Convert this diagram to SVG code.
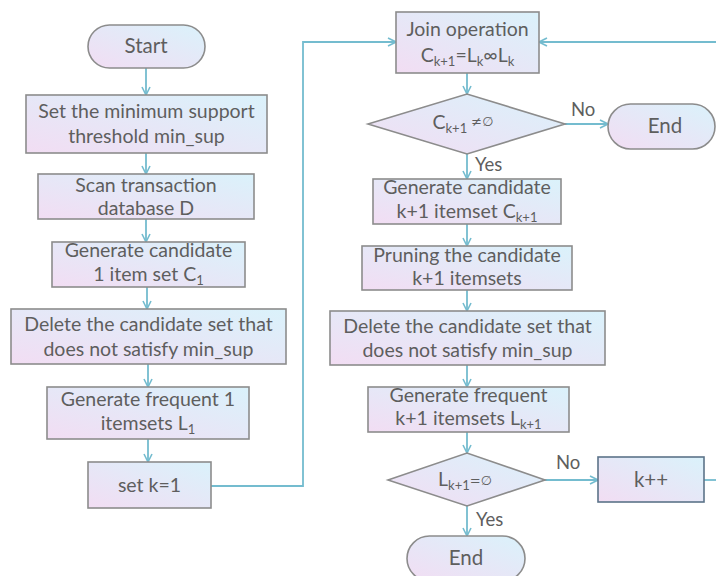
<svg xmlns="http://www.w3.org/2000/svg" width="716" height="576" viewBox="0 0 716 576">
<defs>
<linearGradient id="g" x1="0" y1="1" x2="1" y2="0">
<stop offset="0" stop-color="#f2ddf3"/>
<stop offset="1" stop-color="#daf2fb"/>
</linearGradient>
<marker id="a" viewBox="0 0 10 10" refX="9" refY="5" markerWidth="10" markerHeight="10" markerUnits="userSpaceOnUse" orient="auto">
<path d="M1,1 L9,5 L1,9" fill="none" stroke="#74bccf" stroke-width="1.6"/>
</marker>
<style>
.n{fill:url(#g);stroke:#8c8c8c;stroke-width:1.6}
.k{fill:url(#g);stroke:#5c7389;stroke-width:1.6}
.t{font-family:Lato,"Liberation Sans",sans-serif;font-size:19.5px;fill:#5e5e5e;text-anchor:middle}
.b{font-size:20.5px}
.l{font-family:Lato,"Liberation Sans",sans-serif;font-size:18.5px;fill:#5e5e5e}
.c{fill:none;stroke:#74bccf;stroke-width:1.8}
.s{font-size:13px}
.e{font-size:13px;font-family:"DejaVu Sans",sans-serif}
</style>
</defs>
<rect width="716" height="576" fill="#ffffff"/>
<g id="connectors">
<line class="c" x1="146" y1="68" x2="146" y2="95" marker-end="url(#a)"/>
<line class="c" x1="146" y1="153" x2="146" y2="174" marker-end="url(#a)"/>
<line class="c" x1="146" y1="219" x2="146" y2="242" marker-end="url(#a)"/>
<line class="c" x1="147" y1="287" x2="147" y2="309" marker-end="url(#a)"/>
<line class="c" x1="148" y1="364" x2="148" y2="387" marker-end="url(#a)"/>
<line class="c" x1="148" y1="439" x2="148" y2="462" marker-end="url(#a)"/>
<polyline class="c" points="211,486 303,486 303,42 396,42" marker-end="url(#a)"/>
<line class="c" x1="716" y1="42" x2="539" y2="42" marker-end="url(#a)"/>
<line class="c" x1="467" y1="73" x2="467" y2="94" marker-end="url(#a)"/>
<line class="c" x1="565" y1="124" x2="608" y2="124" marker-end="url(#a)"/>
<line class="c" x1="467" y1="154" x2="467" y2="179" marker-end="url(#a)"/>
<line class="c" x1="467" y1="224" x2="467" y2="246" marker-end="url(#a)"/>
<line class="c" x1="467" y1="290" x2="467" y2="311" marker-end="url(#a)"/>
<line class="c" x1="467" y1="365" x2="467" y2="387" marker-end="url(#a)"/>
<line class="c" x1="467" y1="432" x2="467" y2="453" marker-end="url(#a)"/>
<line class="c" x1="467" y1="506" x2="467" y2="536" marker-end="url(#a)"/>
<line class="c" x1="545" y1="480" x2="598" y2="480" marker-end="url(#a)"/>
<line class="c" x1="704" y1="480" x2="716" y2="480"/>
<text class="l" x="571" y="116">No</text>
<text class="l" x="475" y="171">Yes</text>
<text class="l" x="556" y="469">No</text>
<text class="l" x="476" y="526">Yes</text>
</g>
<g id="start">
<rect class="n" x="88" y="25" width="117" height="43" rx="21.5"/>
<text class="t b" x="146" y="53">Start</text>
</g>
<g id="setMinSup">
<rect class="n" x="26" y="95" width="241" height="58"/>
<text class="t" x="146.5" y="118">Set the minimum support</text>
<text class="t" x="146.5" y="143">threshold min_sup</text>
</g>
<g id="scan">
<rect class="n" x="38" y="174" width="216" height="45"/>
<text class="t" x="146" y="192">Scan transaction</text>
<text class="t" x="146" y="215">database D</text>
</g>
<g id="genC1">
<rect class="n" x="52" y="242" width="193" height="45"/>
<text class="t" x="148.5" y="257">Generate candidate</text>
<text class="t" x="148.5" y="281">1 item set C<tspan class="s" dy="4">1</tspan></text>
</g>
<g id="delete1">
<rect class="n" x="11" y="309" width="275" height="55"/>
<text class="t" x="148.5" y="331">Delete the candidate set that</text>
<text class="t" x="148.5" y="356">does not satisfy min_sup</text>
</g>
<g id="genL1">
<rect class="n" x="47" y="387" width="202" height="52"/>
<text class="t" x="148" y="406">Generate frequent 1</text>
<text class="t" x="148" y="430">itemsets L<tspan class="s" dy="4">1</tspan></text>
</g>
<g id="setK">
<rect class="n" x="88" y="462" width="123" height="46"/>
<text class="t" x="149.5" y="492">set k=1</text>
</g>
<g id="join">
<rect class="n" x="396" y="12" width="143" height="61"/>
<text class="t" x="467.5" y="36">Join operation</text>
<text class="t" x="467.5" y="62">C<tspan class="s" dy="4">k+1</tspan><tspan dy="-4">=L</tspan><tspan class="s" dy="4">k</tspan><tspan dy="-4">∞L</tspan><tspan class="s" dy="4">k</tspan></text>
</g>
<g id="checkC">
<polygon class="n" points="368,124 467,94 565,124 467,154"/>
<text class="t" x="463" y="129">C<tspan class="s" dy="4">k+1</tspan><tspan class="e" dy="-7"> ≠∅</tspan></text>
</g>
<g id="endTop">
<rect class="n" x="608" y="104" width="107" height="45" rx="22.5"/>
<text class="t b" x="665" y="133">End</text>
</g>
<g id="genCk1">
<rect class="n" x="373" y="179" width="188" height="45"/>
<text class="t" x="467" y="194">Generate candidate</text>
<text class="t" x="467" y="218">k+1 itemset C<tspan class="s" dy="4">k+1</tspan></text>
</g>
<g id="prune">
<rect class="n" x="362" y="246" width="210" height="44"/>
<text class="t" x="467" y="262">Pruning the candidate</text>
<text class="t" x="467" y="285">k+1 itemsets</text>
</g>
<g id="delete2">
<rect class="n" x="330" y="311" width="275" height="54"/>
<text class="t" x="467.5" y="333">Delete the candidate set that</text>
<text class="t" x="467.5" y="357">does not satisfy min_sup</text>
</g>
<g id="genLk1">
<rect class="n" x="368" y="387" width="201" height="45"/>
<text class="t" x="468.5" y="402">Generate frequent</text>
<text class="t" x="468.5" y="425">k+1 itemsets L<tspan class="s" dy="4">k+1</tspan></text>
</g>
<g id="checkL">
<polygon class="n" points="388,480 467,453 545,480 467,506"/>
<text class="t" x="465" y="486">L<tspan class="s" dy="4">k+1</tspan><tspan class="e" dy="-5">=∅</tspan></text>
</g>
<g id="kpp">
<rect class="k" x="598" y="457" width="106" height="45"/>
<text class="t b" x="651" y="487">k++</text>
</g>
<g id="endBottom">
<rect class="n" x="407" y="536" width="118" height="45" rx="22.5"/>
<text class="t b" x="466" y="565">End</text>
</g>
</svg>
